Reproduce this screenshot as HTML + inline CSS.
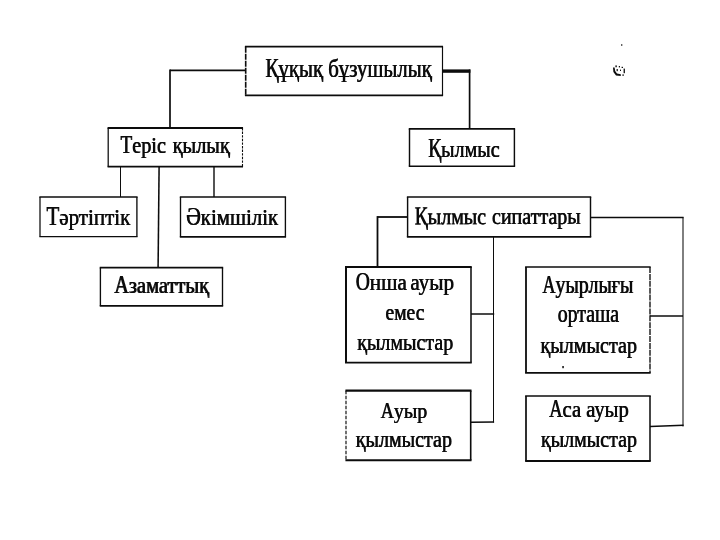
<!DOCTYPE html>
<html lang="kk">
<head>
<meta charset="utf-8">
<title>Құқық бұзушылық</title>
<style>
html,body{margin:0;padding:0;background:#fff;}
body{width:720px;height:540px;overflow:hidden;}
svg{display:block;filter:grayscale(1);}
text{font-family:"Liberation Serif","DejaVu Serif",serif;fill:#0c0c0c;stroke:#0c0c0c;stroke-width:0.15px;stroke-linejoin:round;}
</style>
</head>
<body>
<svg width="720" height="540" viewBox="0 0 720 540">
<rect x="0" y="0" width="720" height="540" fill="#fff"/>
<g fill="none" stroke="#0c0c0c" stroke-linecap="butt">
<!-- boxes -->
<line x1="244.89" y1="46.70" x2="443.08" y2="46.70" stroke-width="1.80"/><line x1="442.50" y1="46.70" x2="442.50" y2="95.40" stroke-width="1.17"/><line x1="244.89" y1="95.40" x2="443.08" y2="95.40" stroke-width="1.80"/><line x1="245.70" y1="46.70" x2="245.70" y2="95.40" stroke-width="1.62" stroke-dasharray="6 1"/>
<line x1="107.57" y1="128.00" x2="243.04" y2="128.00" stroke-width="1.80"/><line x1="242.50" y1="128.00" x2="242.50" y2="166.70" stroke-width="1.08" stroke-dasharray="2.4 1.2"/><line x1="107.57" y1="166.70" x2="243.04" y2="166.70" stroke-width="1.80"/><line x1="108.20" y1="128.00" x2="108.20" y2="166.70" stroke-width="1.26"/>
<line x1="408.78" y1="128.80" x2="515.12" y2="128.80" stroke-width="1.80"/><line x1="514.40" y1="128.80" x2="514.40" y2="166.30" stroke-width="1.44"/><line x1="408.78" y1="166.30" x2="515.12" y2="166.30" stroke-width="1.62"/><line x1="409.50" y1="128.80" x2="409.50" y2="166.30" stroke-width="1.44"/>
<line x1="39.37" y1="197.00" x2="137.58" y2="197.00" stroke-width="1.53"/><line x1="136.90" y1="197.00" x2="136.90" y2="236.60" stroke-width="1.35"/><line x1="39.37" y1="236.60" x2="137.58" y2="236.60" stroke-width="1.44"/><line x1="40.00" y1="197.00" x2="40.00" y2="236.60" stroke-width="1.26"/>
<line x1="179.82" y1="197.00" x2="286.07" y2="197.00" stroke-width="1.53"/><line x1="285.40" y1="197.00" x2="285.40" y2="236.80" stroke-width="1.35"/><line x1="179.82" y1="236.80" x2="286.07" y2="236.80" stroke-width="1.80"/><line x1="180.50" y1="197.00" x2="180.50" y2="236.80" stroke-width="1.35"/>
<line x1="99.73" y1="267.60" x2="223.18" y2="267.60" stroke-width="1.62"/><line x1="222.50" y1="267.60" x2="222.50" y2="305.80" stroke-width="1.35"/><line x1="99.73" y1="305.80" x2="223.18" y2="305.80" stroke-width="1.80"/><line x1="100.40" y1="267.60" x2="100.40" y2="305.80" stroke-width="1.35"/>
<line x1="406.88" y1="197.00" x2="591.22" y2="197.00" stroke-width="1.62"/><line x1="590.50" y1="197.00" x2="590.50" y2="236.90" stroke-width="1.44"/><line x1="406.88" y1="236.90" x2="591.22" y2="236.90" stroke-width="1.62"/><line x1="407.60" y1="197.00" x2="407.60" y2="236.90" stroke-width="1.44"/>
<line x1="345.01" y1="267.00" x2="471.76" y2="267.00" stroke-width="1.98"/><line x1="471.00" y1="267.00" x2="471.00" y2="362.60" stroke-width="1.53"/><line x1="345.01" y1="362.60" x2="471.76" y2="362.60" stroke-width="1.80"/><line x1="346.00" y1="267.00" x2="346.00" y2="362.60" stroke-width="1.98"/>
<line x1="525.10" y1="267.00" x2="650.67" y2="267.00" stroke-width="1.62"/><line x1="650.00" y1="267.00" x2="650.00" y2="372.80" stroke-width="1.35" stroke-dasharray="6 0.9"/><line x1="525.10" y1="372.80" x2="650.67" y2="372.80" stroke-width="1.80"/><line x1="526.00" y1="267.00" x2="526.00" y2="372.80" stroke-width="1.80"/>
<line x1="345.42" y1="390.70" x2="471.51" y2="390.70" stroke-width="2.16"/><line x1="470.70" y1="390.70" x2="470.70" y2="460.30" stroke-width="1.62"/><line x1="345.42" y1="460.30" x2="471.51" y2="460.30" stroke-width="1.98"/><line x1="346.00" y1="390.70" x2="346.00" y2="460.30" stroke-width="1.17" stroke-dasharray="3.6 1.4"/>
<line x1="525.14" y1="396.00" x2="650.76" y2="396.00" stroke-width="1.71"/><line x1="650.00" y1="396.00" x2="650.00" y2="461.00" stroke-width="1.53"/><line x1="525.14" y1="461.00" x2="650.76" y2="461.00" stroke-width="1.98"/><line x1="526.00" y1="396.00" x2="526.00" y2="461.00" stroke-width="1.71"/>
<!-- connectors -->
<line x1="170.00" y1="70.30" x2="246.00" y2="70.30" stroke-width="1.80"/>
<line x1="170.00" y1="69.40" x2="170.00" y2="128.00" stroke-width="1.70"/>
<line x1="442.50" y1="71.10" x2="470.40" y2="71.10" stroke-width="3.40"/>
<line x1="469.60" y1="69.50" x2="469.60" y2="128.80" stroke-width="1.70"/>
<line x1="120.50" y1="166.00" x2="120.50" y2="197.00" stroke-width="1.00"/>
<line x1="159.10" y1="166.00" x2="158.10" y2="267.00" stroke-width="1.55"/>
<line x1="214.00" y1="166.00" x2="214.00" y2="197.00" stroke-width="1.40"/>
<line x1="377.50" y1="217.00" x2="408.00" y2="217.00" stroke-width="1.80"/>
<line x1="377.50" y1="216.10" x2="377.50" y2="267.00" stroke-width="1.80"/>
<line x1="590.00" y1="217.60" x2="683.60" y2="217.60" stroke-width="1.50"/>
<line x1="683.00" y1="217.30" x2="683.00" y2="426.40" stroke-width="1.05"/>
<line x1="493.50" y1="237.00" x2="493.50" y2="422.50" stroke-width="1.05"/>
<line x1="471.00" y1="314.00" x2="494.20" y2="314.00" stroke-width="1.50"/>
<line x1="471.00" y1="422.20" x2="494.10" y2="422.00" stroke-width="1.50"/>
<line x1="650.00" y1="316.00" x2="683.00" y2="316.00" stroke-width="1.50"/>
<line x1="650.00" y1="426.60" x2="683.60" y2="425.20" stroke-width="1.50"/>
</g>
<!-- scan specks -->
<g fill="#0c0c0c" stroke="none">
<rect x="621.2" y="44.2" width="1.1" height="1.6"/>
<rect x="562.3" y="366" width="1.5" height="2.2"/>
<path d="M613 67.6 l1.6 0 l0.6 3.4 l1.8 2.4 l3.8 0.8 l0 1.9 l-4.8 -0.6 l-2.6 -3.4 z"/>
<rect x="615.4" y="65.4" width="1.4" height="1.8"/>
<rect x="618.8" y="66" width="1.2" height="1.4"/>
<rect x="621.6" y="66.8" width="1.4" height="1.2"/>
<rect x="623.6" y="68.6" width="1.3" height="4.6"/>
<rect x="616.6" y="69" width="1.2" height="2.2"/>
<rect x="620" y="69.6" width="1" height="1.4"/>
<rect x="622.4" y="74.4" width="1.4" height="1.4"/>
</g>
<!-- labels -->
<text id="t1" x="265.30" y="77.30" font-size="24.4"><tspan font-size="26.6" textLength="13.01" lengthAdjust="spacingAndGlyphs">Қ</tspan><tspan textLength="153.29" lengthAdjust="spacingAndGlyphs">ұқық бұзушылық</tspan></text><use href="#t1" x="0.4"/>
<text id="t2" x="120.20" y="153.40" font-size="23.4" style="word-spacing:2px"><tspan font-size="25.7" textLength="11.70" lengthAdjust="spacingAndGlyphs">Т</tspan><tspan textLength="97.60" lengthAdjust="spacingAndGlyphs">еріс қылық</tspan></text><use href="#t2" x="0.5"/>
<text id="t3" x="428.00" y="156.80" font-size="23.4"><tspan font-size="26.4" textLength="12.96" lengthAdjust="spacingAndGlyphs">Қ</tspan><tspan textLength="58.44" lengthAdjust="spacingAndGlyphs">ылмыс</tspan></text><use href="#t3" x="0.4"/>
<text id="t4" x="46.30" y="224.60" font-size="23.7"><tspan font-size="27.4" textLength="12.77" lengthAdjust="spacingAndGlyphs">Т</tspan><tspan textLength="71.08" lengthAdjust="spacingAndGlyphs">әртіптік</tspan></text><use href="#t4" x="0.35"/>
<text id="t5" x="186.00" y="224.70" font-size="22.8"><tspan font-size="25.6" textLength="14.54" lengthAdjust="spacingAndGlyphs">Ә</tspan><tspan textLength="77.31" lengthAdjust="spacingAndGlyphs">кімшілік</tspan></text><use href="#t5" x="0.55"/>
<text id="t6" x="114.00" y="292.90" font-size="22.9"><tspan font-size="26" textLength="14.48" lengthAdjust="spacingAndGlyphs">А</tspan><tspan textLength="80.32" lengthAdjust="spacingAndGlyphs">заматтық</tspan></text><use href="#t6" x="0.7"/>
<text id="t7" x="414.60" y="224.40" font-size="23.2" transform="rotate(-0.2 414.60 224.40)" style="word-spacing:1px"><tspan font-size="26" textLength="12.87" lengthAdjust="spacingAndGlyphs">Қ</tspan><tspan textLength="153.03" lengthAdjust="spacingAndGlyphs">ылмыс сипаттары</tspan></text><use href="#t7" x="0.5"/>
<text id="t8" x="355.50" y="290.10" font-size="23.3" style="word-spacing:-2px"><tspan font-size="25" textLength="14.12" lengthAdjust="spacingAndGlyphs">О</tspan><tspan textLength="84.28" lengthAdjust="spacingAndGlyphs">нша ауыр</tspan></text><use href="#t8" x="0.4"/>
<text id="t9" x="385.30" y="320.20" font-size="23.3" textLength="38.90" lengthAdjust="spacingAndGlyphs">емес</text><use href="#t9" x="0.4"/>
<text id="t10" x="357.00" y="350.00" font-size="23.3" textLength="96.10" lengthAdjust="spacingAndGlyphs">қылмыстар</text><use href="#t10" x="0.4"/>
<text id="t11" x="380.50" y="417.60" font-size="21.6"><tspan font-size="22.9" textLength="13.16" lengthAdjust="spacingAndGlyphs">А</tspan><tspan textLength="33.44" lengthAdjust="spacingAndGlyphs">уыр</tspan></text><use href="#t11" x="0.4"/>
<text id="t12" x="355.50" y="446.90" font-size="22.3" textLength="96.30" lengthAdjust="spacingAndGlyphs">қылмыстар</text><use href="#t12" x="0.4"/>
<text id="t13" x="542.30" y="293.00" font-size="24.2"><tspan font-size="25.4" textLength="12.98" lengthAdjust="spacingAndGlyphs">А</tspan><tspan textLength="77.87" lengthAdjust="spacingAndGlyphs">уырлығы</tspan></text><use href="#t13" x="0.45"/>
<text id="t14" x="557.50" y="322.30" font-size="24.2" textLength="61.25" lengthAdjust="spacingAndGlyphs">орташа</text><use href="#t14" x="0.45"/>
<text id="t15" x="540.30" y="352.50" font-size="24" textLength="96.45" lengthAdjust="spacingAndGlyphs">қылмыстар</text><use href="#t15" x="0.45"/>
<text id="t16" x="549.00" y="417.00" font-size="23.7"><tspan font-size="24.7" textLength="13.35" lengthAdjust="spacingAndGlyphs">А</tspan><tspan textLength="66.25" lengthAdjust="spacingAndGlyphs">са ауыр</tspan></text><use href="#t16" x="0.4"/>
<text id="t17" x="540.80" y="447.30" font-size="23.5" textLength="96.00" lengthAdjust="spacingAndGlyphs">қылмыстар</text><use href="#t17" x="0.4"/>
</svg>
</body>
</html>
